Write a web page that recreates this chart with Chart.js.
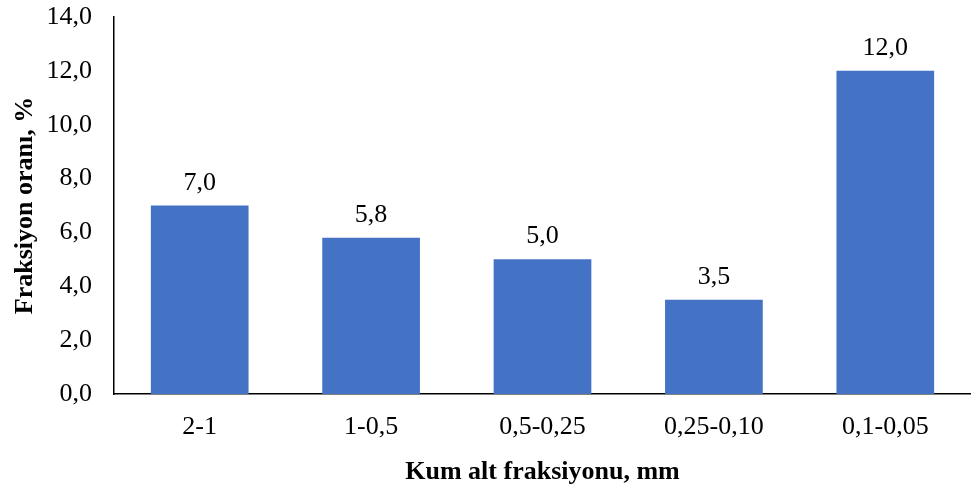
<!DOCTYPE html>
<html>
<head>
<meta charset="utf-8">
<script src="https://cdn.jsdelivr.net/npm/chart.js@4"></script>
<style>
  html, body { margin: 0; padding: 0; background: #fff; }
  #wrap { width: 971px; height: 496px; }
</style>
</head>
<body>
<div id="wrap"><canvas id="c" width="971" height="496"></canvas></div>
<script>
// Sand sub-fraction shares
const categories = ['2-1', '1-0,5', '0,5-0,25', '0,25-0,10', '0,1-0,05'];
const shares = [7.0, 5.8, 5.0, 3.5, 12.0];
const yTicks = [0, 2, 4, 6, 8, 10, 12, 14];

const fmt = v => v.toFixed(1).replace('.', ',');
const FONT = "'Liberation Serif', 'Times New Roman', serif";
const SIZE = 26;

// Value labels above each bar
const valueLabels = {
  id: 'valueLabels',
  afterDatasetsDraw(chart) {
    const ctx = chart.ctx;
    const meta = chart.getDatasetMeta(0);
    const data = chart.data.datasets[0].data;
    ctx.save();
    ctx.font = SIZE + 'px ' + FONT;
    ctx.fillStyle = '#000';
    ctx.textAlign = 'center';
    ctx.textBaseline = 'alphabetic';
    meta.data.forEach((bar, i) => {
      ctx.fillText(fmt(data[i]), bar.x, bar.y - 16);
    });
    ctx.restore();
  }
};

new Chart(document.getElementById('c'), {
  type: 'bar',
  data: {
    labels: categories,
    datasets: [{
      data: shares,
      backgroundColor: '#4472C4',
      borderWidth: 0,
      categoryPercentage: 1,
      barPercentage: 0.57
    }]
  },
  options: {
    responsive: false,
    animation: false,
    layout: { padding: { top: 17, right: 0, bottom: 0, left: 0 } },
    plugins: { legend: { display: false }, tooltip: { enabled: false } },
    scales: {
      x: {
        grid: { display: false, drawTicks: false },
        border: { display: true, color: '#000', width: 1.5 },
        ticks: { color: '#000', font: { family: FONT, size: SIZE }, padding: 18, maxRotation: 0 },
        title: {
          display: true, text: 'Kum alt fraksiyonu, mm', color: '#000',
          font: { family: FONT, size: SIZE, weight: 'bold' },
          padding: { top: 4, bottom: 8 }
        },
        afterFit(scale) {
          scale.height = 102;
          scale.paddingLeft = 0;
          scale.paddingRight = 0;
        }
      },
      y: {
        min: 0, max: 14,
        afterBuildTicks(scale) { scale.ticks = yTicks.map(v => ({ value: v })); },
        grid: { display: false, drawTicks: false },
        border: { display: true, color: '#000', width: 1.5 },
        ticks: { color: '#000', font: { family: FONT, size: SIZE }, padding: 22, callback: v => fmt(v) },
        title: {
          display: true, text: 'Fraksiyon oranı, %', color: '#000',
          font: { family: FONT, size: SIZE, weight: 'bold' },
          padding: { top: 10, bottom: 4 }
        },
        afterFit(scale) {
          scale.width = 114;
          scale.paddingTop = 0;
          scale.paddingBottom = 0;
        }
      }
    }
  },
  plugins: [valueLabels]
});
</script>
</body>
</html>
